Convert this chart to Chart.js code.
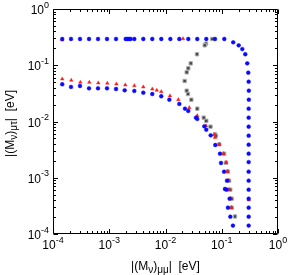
<!DOCTYPE html>
<html>
<head>
<meta charset="utf-8">
<script src="https://cdn.jsdelivr.net/npm/chart.js@4/dist/chart.umd.min.js"></script>
<style>
html,body{margin:0;padding:0;background:#fff;}
canvas{display:block;}
</style>
</head>
<body>
<canvas id="c" width="289" height="275" style="width:289px;height:275px"></canvas>
<script>
// ---- data ----
const tickExponents = [-4, -3, -2, -1, 0];
const xTitleParts = [["|(M", 0], ["ν", 1], [")", 0], ["μμ", 1], ["|  [eV]", 0]];
const yTitleParts = [["|(M", 0], ["ν", 1], [")", 0], ["μτ", 1], ["|  [eV]", 0]];

const blueX = [
  1.46e-4, 2.09e-4, 3.02e-4, 4.37e-4, 6.31e-4, 9.12e-4, 1.32e-3, 1.96e-3, 2.11e-3, 2.24e-3, 2.40e-3,
  2.79e-3, 4.03e-3, 5.82e-3, 8.41e-3, 1.22e-2, 1.76e-2, 2.54e-2, 3.67e-2, 5.31e-2, 7.59e-2, 0.111,
  0.160, 0.200, 0.232, 0.262, 0.284, 0.296, 0.301, 0.303, 0.303,
  0.301, 0.301, 0.301, 0.301, 0.301, 0.301, 0.301, 0.301, 0.301, 0.301, 0.301, 0.301, 0.301, 0.301,
  1.46e-4, 2.09e-4, 3.02e-4, 4.37e-4, 6.31e-4, 9.12e-4, 1.32e-3, 1.88e-3, 2.79e-3, 4.03e-3, 5.82e-3,
  8.41e-3, 1.17e-2, 1.76e-2, 2.22e-2, 2.54e-2, 3.48e-2, 3.67e-2, 4.90e-2, 5.31e-2, 6.36e-2, 7.67e-2,
  9.31e-2, 9.70e-2, 0.110, 0.124, 0.114, 0.122, 0.138, 0.129, 0.142, 0.158
];
const blueY = [
  0.293, 0.293, 0.293, 0.293, 0.293, 0.293, 0.293, 0.293, 0.293, 0.293, 0.293,
  0.293, 0.293, 0.293, 0.293, 0.293, 0.293, 0.293, 0.293, 0.293, 0.293, 0.293,
  0.256, 0.226, 0.194, 0.157, 0.108, 0.0737, 0.051, 0.0353, 0.0244,
  0.0169, 0.0117, 8.09e-3, 5.59e-3, 3.87e-3, 2.68e-3, 1.90e-3, 1.28e-3, 8.87e-4, 6.13e-4, 4.24e-4, 2.94e-4, 2.03e-4, 1.41e-4,
  0.0459, 0.0411, 0.0428, 0.0389, 0.0389, 0.0389, 0.0378, 0.0359, 0.0349, 0.0325, 0.0308,
  0.0281, 0.0244, 0.0205, 0.0169, 0.0154, 0.0117, 0.0111, 8.22e-3, 7.15e-3, 5.68e-3, 3.82e-3,
  2.68e-3, 1.83e-3, 1.28e-3, 8.87e-4, 6.31e-4, 6.13e-4, 4.24e-4, 2.94e-4, 2.03e-4, 1.41e-4
];

const redX = [
  1.46e-4, 2.05e-2,
  1.46e-4, 2.11e-4, 3.06e-4, 4.42e-4, 6.39e-4, 9.24e-4, 1.34e-3, 1.93e-3, 2.79e-3, 4.03e-3, 5.82e-3,
  6.99e-3, 8.41e-3, 1.20e-2, 1.69e-2, 2.65e-2, 3.67e-2, 5.25e-2, 7.38e-2, 7.59e-2, 9.04e-2, 0.107,
  0.120, 0.126, 0.132, 0.135, 0.146, 0.149, 0.302
];
const redY = [
  0.281, 0.296,
  0.0570, 0.0540, 0.0498, 0.0498, 0.0484, 0.0478, 0.0464, 0.0446, 0.0433, 0.0411, 0.0378,
  0.0359, 0.0339, 0.0286, 0.0244, 0.0176, 0.0127, 8.41e-3, 5.82e-3, 5.20e-3, 3.90e-3, 2.68e-3,
  1.87e-3, 1.30e-3, 8.93e-4, 6.23e-4, 4.28e-4, 2.96e-4, 4.02e-4
];

const grayX = [
  0.0679, 0.0525, 0.0498, 0.0363, 0.0281, 0.0254, 0.0238, 0.0219, 0.0238, 0.0251, 0.0288,
  0.0367, 0.0478, 0.0531, 0.0631, 0.0759, 0.0790, 0.0904, 0.110, 0.119, 0.129, 0.135,
  0.142, 0.150, 0.150, 0.172
];
const grayY = [
  0.293, 0.242, 0.226, 0.157, 0.108, 0.0883, 0.0749, 0.0525, 0.0353, 0.0308, 0.0244,
  0.0169, 0.0117, 0.0103, 8.09e-3, 5.92e-3, 5.59e-3, 3.93e-3, 2.68e-3, 1.85e-3, 1.29e-3, 8.87e-4,
  6.13e-4, 4.24e-4, 2.94e-4, 2.05e-4
];

const toPts = (xs, ys) => xs.map((v, i) => ({x: v, y: ys[i]}));

const FONT = '"Liberation Sans", Arial, sans-serif';

function drawParts(ctx, parts, size, subSize) {
  let x = 0;
  for (const [t, sub] of parts) {
    ctx.font = (sub ? subSize : size) + 'px ' + FONT;
    ctx.fillText(t, x, sub ? 3 : 0);
    x += ctx.measureText(t).width;
  }
}
function partsWidth(ctx, parts, size, subSize) {
  let w = 0;
  for (const [t, sub] of parts) {
    ctx.font = (sub ? subSize : size) + 'px ' + FONT;
    w += ctx.measureText(t).width;
  }
  return w;
}

function powLabel(ctx, exp, px, baseY, align) {
  const bigSize = 12, smallSize = 9;
  ctx.font = bigSize + 'px ' + FONT;
  const w10 = ctx.measureText('10').width;
  ctx.font = smallSize + 'px ' + FONT;
  const es = String(exp);
  const we = ctx.measureText(es).width;
  const total = w10 + we;
  let x0 = align === 'right' ? px - total : px - total / 2;
  ctx.textAlign = 'left';
  ctx.textBaseline = 'alphabetic';
  ctx.font = bigSize + 'px ' + FONT;
  ctx.fillText('10', x0, baseY);
  ctx.font = smallSize + 'px ' + FONT;
  ctx.fillText(es, x0 + w10, baseY - 6.5);
}

const axisPlugin = {
  id: 'gnuAxes',
  afterDatasetsDraw(chart) {
    const {ctx, chartArea: a, scales} = chart;
    const xs = scales.x, ys = scales.y;
    ctx.save();
    ctx.strokeStyle = '#000';
    ctx.fillStyle = '#000';
    ctx.lineWidth = 1;
    const L = Math.round(a.left) + 0.5, R = Math.round(a.right) - 0.5;
    const T = Math.round(a.top) + 0.5, B = Math.round(a.bottom) - 0.5;
    ctx.beginPath();
    ctx.rect(L, T, R - L, B - T);
    ctx.stroke();
    ctx.beginPath();
    for (let i = 0; i < tickExponents.length; i++) {
      const e = tickExponents[i];
      for (let m = 1; m <= 9; m++) {
        if (i === tickExponents.length - 1 && m > 1) break;
        const v = m * Math.pow(10, e);
        const len = m === 1 ? 4.5 : 2.5;
        const px = Math.round(xs.getPixelForValue(v)) + 0.5;
        ctx.moveTo(px, B); ctx.lineTo(px, B - len);
        ctx.moveTo(px, T); ctx.lineTo(px, T + len);
        const py = Math.round(ys.getPixelForValue(v)) + 0.5;
        ctx.moveTo(L, py); ctx.lineTo(L + len, py);
        ctx.moveTo(R, py); ctx.lineTo(R - len, py);
      }
    }
    ctx.stroke();
    for (const e of tickExponents) {
      const v = Math.pow(10, e);
      powLabel(ctx, e, xs.getPixelForValue(v), a.bottom + 15, 'center');
      powLabel(ctx, e, a.left - 4, ys.getPixelForValue(v) + 5, 'right');
    }
    ctx.textAlign = 'left';
    ctx.textBaseline = 'alphabetic';
    const wx = partsWidth(ctx, xTitleParts, 12, 10);
    ctx.save();
    ctx.translate((a.left + a.right) / 2 - wx / 2, 270);
    drawParts(ctx, xTitleParts, 12, 10);
    ctx.restore();
    const wy = partsWidth(ctx, yTitleParts, 12, 10);
    ctx.save();
    ctx.translate(14, (a.top + a.bottom) / 2 + 2 + wy / 2);
    ctx.rotate(-Math.PI / 2);
    drawParts(ctx, yTitleParts, 12, 10);
    ctx.restore();
    ctx.restore();
  }
};

new Chart(document.getElementById('c'), {
  type: 'scatter',
  data: {
    datasets: [
      {
        label: 'blue',
        data: toPts(blueX, blueY),
        pointStyle: 'circle',
        pointRadius: 1.9,
        borderWidth: 0.5,
        backgroundColor: '#0a0aff',
        borderColor: '#0a0aff'
      },
      {
        label: 'red',
        data: toPts(redX, redY),
        pointStyle: 'triangle',
        pointRadius: 2.1,
        borderWidth: 0.4,
        backgroundColor: '#ff1a1a',
        borderColor: '#ff1a1a'
      },
      {
        label: 'gray',
        data: toPts(grayX, grayY),
        pointStyle: 'rect',
        pointRadius: 2.4,
        borderWidth: 1,
        backgroundColor: '#444444',
        borderColor: '#b0b0b0'
      }
    ]
  },
  options: {
    responsive: false,
    animation: false,
    devicePixelRatio: 1,
    layout: {padding: {left: 53, right: 11, top: 9, bottom: 41}},
    plugins: {legend: {display: false}, tooltip: {enabled: false}},
    scales: {
      x: {type: 'logarithmic', min: 1e-4, max: 1, display: false},
      y: {type: 'logarithmic', min: 1e-4, max: 1, display: false}
    }
  },
  plugins: [axisPlugin]
});
</script>
</body>
</html>
